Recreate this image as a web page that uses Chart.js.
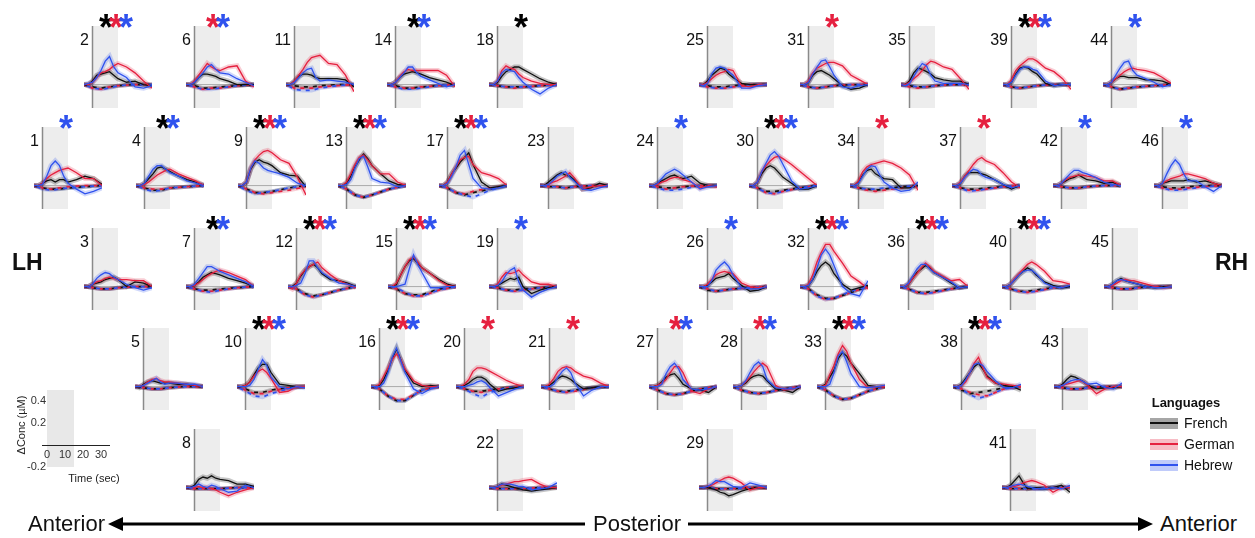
<!DOCTYPE html>
<html>
<head>
<meta charset="utf-8">
<title>HbO / HbR responses per channel</title>
<script src="https://cdn.jsdelivr.net/npm/chart.js@4.4.1/dist/chart.umd.min.js"></script>
<style>
  html, body { margin: 0; padding: 0; background: #fff; }
  #fig { position: relative; width: 1255px; height: 538px; overflow: hidden;
         font-family: "Liberation Sans", Arial, sans-serif; color: #111; }
  #fig canvas { position: absolute; }
  .lbl { position: absolute; font-size: 16px; line-height: 1; transform: translate(-100%, -50%); white-space: nowrap; }
  .star { position: absolute; font-size: 36px; font-weight: bold; line-height: 1; transform: translateX(-50%); }
  .big { position: absolute; font-size: 22px; line-height: 1; transform: translateY(-50%); white-space: nowrap; }
  .hemi { position: absolute; font-size: 23px; font-weight: bold; line-height: 1; transform: translateY(-50%); }
  .small { position: absolute; font-size: 11px; line-height: 1; color: #222; white-space: nowrap; }
  .legtitle { position: absolute; font-size: 13px; font-weight: bold; line-height: 1; transform: translate(-50%, -50%); }
  .legtxt { position: absolute; font-size: 14px; line-height: 1; transform: translateY(-50%); }
  .sw { position: absolute; width: 28px; height: 11px; }
  .sw div { position: absolute; left: 0; right: 0; top: 4.5px; height: 2px; }
</style>
</head>
<body>
<div id="fig"></div>
<script>
// time axes (s)
const timeHbO = [-5, -2.5, 0, 2.5, 5, 7.5, 10, 12.5, 15, 20, 25, 30, 35];
const timeHbR = [-5, 0, 5, 10, 15, 25, 35];

// channel order used by every array below
const channels = [2, 6, 11, 14, 18, 25, 31, 35, 39, 44,
  1, 4, 9, 13, 17, 23, 24, 30, 34, 37, 42, 46,
  3, 7, 12, 15, 19, 26, 32, 36, 40, 45,
  5, 10, 16, 20, 21, 27, 28, 33, 38, 43,
  8, 22, 29, 41];

// significance markers: K = French, R = German, B = Hebrew
const stars = ["KRB", "RB", "", "KB", "K", "", "R", "", "KRB", "B",
  "B", "KB", "KRB", "KRB", "KRB", "", "B", "KRB", "R", "R", "B", "B",
  "", "KB", "KRB", "KRB", "B", "B", "KRB", "KRB", "KRB", "",
  "", "KRB", "KRB", "R", "R", "RB", "RB", "KRB", "KRB", "",
  "", "", "", ""];

// HbO, in 0.01 µM
const frenchHbO = [
  [0,0,3,8,9,10,11,8,5,2,3,0,-1], [0,0,2,6,9,9,8,7,5,3,0,0,0], [0,0,3,7,9,9,8,6,5,5,5,4,-2],
  [0,0,2,6,9,10,11,10,9,6,4,2,-1], [0,0,2,7,11,13,15,15,13,9,5,2,0], [0,0,3,8,11,14,13,9,6,1,0,0,0],
  [0,0,2,8,11,12,10,8,5,-1,-4,-3,0], [0,0,3,10,14,13,11,9,6,4,3,3,0], [0,0,2,9,14,15,14,11,9,1,-1,0,0],
  [0,0,2,5,7,7,6,6,6,4,4,3,0],
  [0,0,2,4,5,3,5,5,3,5,8,6,1], [0,0,2,6,10,15,16,14,12,8,5,3,0], [0,0,3,14,20,22,20,19,17,11,9,8,-1],
  [0,0,2,8,16,22,27,23,17,10,4,1,0], [0,0,3,10,15,20,24,28,18,3,-2,-1,0], [0,0,3,6,9,11,9,8,5,-3,-2,2,0],
  [0,0,2,4,6,8,9,7,6,8,2,0,0], [0,0,3,10,15,17,15,11,7,2,-3,-3,0], [0,0,3,9,13,14,10,8,6,5,-2,-2,0],
  [0,0,2,8,11,11,11,10,9,5,1,-3,0], [0,0,2,4,6,7,9,7,5,4,2,3,0], [0,0,2,3,4,4,4,4,5,3,4,2,0],
  [0,0,2,3,4,6,7,8,6,0,4,3,0], [0,0,1,4,8,10,12,11,10,7,5,3,0], [0,0,3,9,14,17,19,16,11,6,5,3,0],
  [0,0,2,10,17,22,24,20,16,11,6,2,0], [0,0,1,3,5,7,6,8,0,-6,-3,-1,0], [0,0,1,4,7,8,9,11,7,1,-4,-3,0],
  [0,0,1,6,13,18,21,18,11,2,-3,-1,1], [0,0,2,7,12,15,18,16,12,8,3,-1,0], [0,0,2,6,10,13,16,14,10,4,1,-1,0],
  [0,0,2,5,7,5,4,3,2,0,-1,0,0],
  [0,-1,2,4,5,4,3,3,3,2,2,1,0], [0,0,1,4,10,16,19,19,12,2,1,0,0], [0,0,1,6,14,24,32,23,14,3,0,1,0],
  [0,0,1,3,6,8,8,6,2,-4,-2,-1,0], [0,0,1,4,7,9,8,6,3,-2,-1,0,0], [0,0,1,4,8,10,11,7,2,-2,-3,-5,0],
  [0,0,1,3,7,9,10,9,5,-2,-3,-5,0], [0,0,2,8,14,24,29,26,20,11,1,0,0], [0,0,2,7,12,17,20,15,9,3,1,0,-3],
  [0,0,2,6,9,8,6,4,1,-2,-1,-1,0],
  [0,0,2,7,9,8,10,8,7,6,3,3,1], [0,0,1,3,2,1,0,-1,-2,-3,-2,-1,0], [0,0,0,-1,-2,-4,-5,-7,-6,-3,-1,0,0],
  [0,0,2,6,10,4,-1,0,0,-1,0,2,-4]
];
const germanHbO = [
  [0,0,2,6,10,11,13,16,18,15,10,3,-3], [0,0,3,8,13,18,15,13,12,15,16,3,-2], [0,0,3,8,13,19,23,24,25,18,17,8,-6],
  [0,0,2,7,11,13,12,12,12,12,12,8,-2], [0,0,3,12,16,14,13,9,6,3,1,0,0], [0,0,2,5,8,10,11,13,12,-1,-2,0,0],
  [0,0,3,10,14,16,18,19,19,16,8,4,0], [0,0,2,5,8,12,17,20,19,15,13,5,-4], [0,0,4,12,16,19,22,22,20,14,11,5,-4],
  [0,0,2,5,8,11,13,14,13,12,10,6,1],
  [0,0,2,6,9,11,13,14,15,11,6,6,0], [0,0,1,3,6,9,11,13,14,10,7,4,0], [0,0,3,15,22,26,29,30,28,22,19,7,-8],
  [0,0,3,10,18,24,26,22,17,10,10,3,0], [0,0,3,10,16,22,24,25,18,11,9,6,0], [0,0,1,3,4,6,8,11,7,-3,-1,0,0],
  [0,0,1,3,4,6,7,7,5,3,-2,0,-1], [0,0,3,12,17,21,24,25,23,18,12,6,0], [0,0,4,12,16,18,19,20,21,19,15,9,-4],
  [0,0,3,8,13,18,22,24,21,18,11,3,-2], [0,0,2,5,7,8,9,9,8,7,4,4,0], [0,0,2,4,6,7,8,10,10,8,6,2,0],
  [0,0,2,4,5,7,8,7,6,6,5,5,0], [0,0,1,3,6,9,11,13,14,12,9,6,0], [0,-2,3,10,14,17,19,21,16,10,5,2,-1],
  [0,0,3,10,17,23,25,21,16,11,5,1,0], [0,0,2,8,12,11,12,14,10,4,2,2,0], [0,0,2,6,10,12,13,12,11,3,0,-1,0],
  [0,0,2,10,21,29,36,36,30,20,9,4,-2], [0,0,2,7,11,16,20,17,13,9,5,6,0], [0,0,2,7,11,15,19,21,19,13,5,4,2],
  [0,0,1,3,5,6,5,5,4,2,0,-1,0],
  [0,0,1,4,6,7,5,4,4,3,2,1,0], [0,0,1,4,9,13,15,12,7,-5,-4,0,0], [0,0,2,9,16,23,28,23,15,5,1,0,0],
  [0,0,2,6,13,16,16,15,13,9,5,2,0], [0,0,2,7,13,16,17,16,13,9,7,3,0], [0,0,1,3,6,12,17,17,12,-4,-6,-2,0],
  [0,0,1,4,8,13,17,20,17,1,-3,-2,0], [0,0,1,10,18,28,35,30,20,6,-1,0,0], [0,0,1,4,12,20,25,16,8,3,2,1,0],
  [0,0,1,2,3,4,5,4,1,-6,-2,0,0],
  [0,0,0,1,0,0,-1,-2,-4,-7,-4,-2,0], [0,0,1,2,3,4,5,5,6,7,3,0,0], [0,0,1,2,4,6,8,9,8,4,-2,0,0],
  [0,0,1,1,2,4,5,6,5,2,-4,0,0]
];
const hebrewHbO = [
  [0,1,2,6,12,20,24,15,10,6,-2,-3,-1], [0,0,2,6,10,15,17,13,10,9,5,2,-1], [0,0,2,6,10,13,14,6,3,4,3,2,0],
  [0,0,2,6,10,15,15,10,7,4,1,-2,0], [0,0,3,10,13,12,11,6,2,-4,-8,-3,0], [0,-1,1,9,14,15,14,11,8,-3,-3,-1,0],
  [0,0,2,9,15,20,21,15,8,-2,-3,-1,0], [0,-1,1,7,13,18,16,8,3,1,1,1,0], [0,0,2,8,13,15,15,13,12,3,-1,0,0],
  [0,0,2,8,14,19,20,12,8,5,2,-2,0],
  [0,0,1,8,17,21,17,8,2,-3,-7,-5,-2], [0,0,2,8,14,17,17,14,11,8,4,2,0], [0,0,3,15,21,19,15,13,12,10,7,2,0],
  [0,0,1,5,15,23,25,16,6,3,2,-1,0], [0,0,2,8,16,26,30,18,6,-2,-3,-2,0], [0,0,1,4,8,10,12,7,4,-3,-4,-2,0],
  [0,0,2,6,10,12,14,12,9,3,-3,-1,0], [0,0,3,12,19,26,29,25,18,4,-3,-2,0], [0,0,2,8,14,17,16,9,3,-2,-5,-4,3],
  [0,0,2,7,11,14,13,9,7,5,1,-2,0], [0,0,2,6,10,13,13,11,10,7,3,1,0], [0,0,2,10,17,22,18,10,4,4,-1,-5,0],
  [0,0,2,7,10,12,11,8,6,2,-1,-3,-1], [0,0,2,7,12,17,17,15,13,10,7,4,0], [0,0,1,3,11,22,22,16,12,7,3,2,0],
  [0,0,0,1,2,15,27,19,12,-1,-1,0,0], [0,0,1,4,10,14,16,4,-3,-9,-5,-2,0], [0,0,0,5,14,18,21,17,10,-1,-2,-2,0],
  [0,0,1,6,16,27,32,27,18,0,-6,-8,5], [0,0,3,9,15,19,19,15,12,8,4,-1,0], [0,0,2,6,10,13,14,14,11,3,0,-1,1],
  [0,0,2,5,6,5,4,3,2,0,-1,-1,0],
  [0,0,1,3,5,7,4,2,3,3,2,2,0], [0,0,0,1,6,15,23,18,8,0,-2,0,-1], [0,0,0,3,12,25,33,22,12,-2,-6,-2,0],
  [0,0,0,1,2,4,5,3,-1,-8,-5,-2,0], [0,0,0,2,8,13,16,12,3,-8,-3,0,0], [0,0,0,2,11,17,20,15,6,-2,-3,-2,0],
  [0,0,1,5,12,18,21,17,6,-1,-2,-2,0], [0,0,0,2,12,26,30,21,11,0,-1,0,1], [0,0,1,6,12,19,20,18,13,5,-1,-1,2],
  [0,0,1,3,5,6,6,4,2,3,-1,-2,3],
  [0,0,1,3,1,0,2,1,-1,-4,-3,2,0], [0,0,1,3,3,3,2,1,1,-2,-1,0,4], [0,0,1,3,6,5,5,3,1,0,4,2,0],
  [0,0,1,2,3,2,1,0,-1,-1,0,-1,2]
];

// HbR, in 0.01 µM
const frenchHbR = [
  [0,-2,-3,-2,-1,0,0], [0,-1,-3,-3,-2,-1,0], [0,-1,-2,-2,-1,0,0], [0,-1,-3,-3,-2,-1,0], [0,-1,-2,-2,-2,-1,0],
  [0,-1,-2,-2,-1,0,0], [0,-2,-3,-2,-1,0,0], [0,-1,-2,-2,-1,0,0], [0,-2,-3,-2,-1,0,0], [0,-2,-4,-3,-2,-1,0],
  [0,-2,-3,-3,-2,-1,0], [0,-2,-4,-4,-2,-1,0], [0,-3,-6,-6,-5,-2,0], [0,-3,-8,-10,-8,-3,0], [0,-2,-6,-8,-6,-3,0],
  [0,-1,-1,-2,-1,0,0], [0,-1,-2,-2,-1,0,0], [0,-2,-5,-5,-4,-2,0], [0,-2,-3,-4,-3,-1,0], [0,-2,-3,-3,-2,-1,0],
  [0,-1,-2,-2,-1,0,0], [0,-1,-2,-2,-1,0,0],
  [0,-1,-2,-2,-1,0,0], [0,-2,-3,-3,-2,-1,0], [0,-2,-6,-8,-7,-3,0], [0,-2,-6,-7,-7,-2,0], [0,-1,-3,-3,-2,-1,0],
  [0,-3,-4,-3,-2,-1,0], [0,-2,-7,-10,-10,-5,0], [0,-2,-5,-5,-4,-2,0], [0,-2,-4,-4,-3,-1,0], [0,-1,-2,-2,-1,0,0],
  [0,-1,-2,-2,-1,0,0], [0,-2,-5,-5,-3,-1,0], [0,-2,-8,-12,-12,-3,0], [0,-2,-4,-4,-3,-1,0], [0,-2,-4,-4,-3,-1,0],
  [0,-3,-6,-7,-6,-2,0], [0,-3,-5,-6,-5,-2,0], [0,-3,-8,-11,-10,-4,0], [0,-3,-6,-5,-4,-1,0], [0,-1,-2,-2,-1,0,0],
  [0,-1,-1,-1,-1,0,0], [0,-1,-1,-1,-1,0,0], [0,0,-1,-1,-1,0,0], [0,-1,-1,-1,-1,0,0]
];
const germanHbR = [
  [0,-3,-4,-2,-1,0,0], [0,-2,-4,-3,-3,-1,0], [0,-3,-3,-3,-2,-1,0], [0,-2,-3,-3,-2,-1,0], [0,-1,-2,-3,-2,-1,0],
  [0,-2,-3,-3,-2,0,0], [0,-2,-3,-2,-1,0,0], [0,-2,-3,-2,-1,0,0], [0,-2,-3,-2,-1,0,0], [0,-2,-4,-3,-2,-1,0],
  [0,-2,-3,-2,-1,0,0], [0,-2,-3,-3,-2,-1,0], [0,-3,-6,-7,-6,-4,-1], [0,-3,-8,-10,-8,-3,0], [0,-2,-6,-7,-5,-2,0],
  [0,-1,-1,-2,-1,0,0], [0,-1,-3,-2,-1,0,0], [0,-2,-6,-7,-5,-2,0], [0,-2,-4,-5,-4,-2,0], [0,-2,-4,-4,-3,-1,0],
  [0,-1,-2,-2,-1,0,0], [0,-2,-3,-3,-2,-1,0],
  [0,-1,-2,-2,-1,0,0], [0,-2,-4,-4,-3,-1,0], [0,-2,-7,-9,-7,-3,0], [0,-2,-6,-8,-8,-3,0], [0,-1,-3,-4,-3,-1,0],
  [0,-2,-4,-3,-2,-1,0], [0,-2,-8,-11,-10,-5,0], [0,-2,-5,-6,-5,-2,0], [0,-2,-4,-5,-4,-1,0], [0,-1,-2,-2,-1,0,0],
  [0,-1,-2,-2,-1,0,0], [0,-3,-6,-6,-4,-1,0], [0,-2,-8,-11,-11,-3,0], [0,-2,-4,-5,-3,-1,0], [0,-2,-4,-5,-4,-1,0],
  [0,-3,-6,-7,-6,-2,0], [0,-3,-5,-6,-5,-2,0], [0,-3,-8,-11,-10,-4,0], [0,-2,-5,-7,-8,-2,0], [0,-1,-2,-2,-1,0,0],
  [0,-1,-1,-1,-1,0,0], [0,-1,-1,-1,-1,0,0], [0,0,-1,-1,-1,0,0], [0,-1,-1,-1,-1,0,0]
];
const hebrewHbR = [
  [0,-3,-4,-3,-1,0,0], [0,-2,-4,-4,-3,-1,0], [0,-4,-5,-5,-3,-1,0], [0,-2,-4,-4,-3,-1,0], [0,-1,-2,-2,-2,-1,0],
  [0,-2,-3,-3,-2,0,0], [0,-2,-3,-2,-1,0,0], [0,-1,-2,-2,-1,0,0], [0,-2,-3,-2,-1,0,0], [0,-2,-4,-3,-2,-1,0],
  [0,-3,-4,-3,-2,-1,0], [0,-3,-5,-4,-2,-1,0], [0,-4,-7,-6,-5,-2,0], [0,-3,-8,-10,-8,-3,0], [0,-2,-6,-8,-10,-4,0],
  [0,-1,-1,-2,-1,0,0], [0,-2,-4,-4,-3,0,0], [0,-2,-6,-7,-5,-2,0], [0,-2,-3,-3,-2,-1,0], [0,-2,-5,-4,-3,-1,0],
  [0,-1,-2,-2,-1,0,0], [0,-2,-4,-4,-3,-1,0],
  [0,-1,-2,-2,-1,0,0], [0,-2,-4,-5,-3,-1,0], [0,-2,-7,-9,-7,-3,0], [0,-1,-5,-8,-8,-3,0], [0,-1,-3,-4,-3,-1,0],
  [0,-2,-4,-3,-2,-1,0], [0,-2,-8,-11,-10,-4,0], [0,-2,-5,-6,-5,-2,0], [0,-2,-4,-5,-4,-1,0], [0,-1,-2,-2,-1,0,0],
  [0,-1,-2,-2,-1,0,0], [0,-4,-8,-9,-6,-2,0], [0,-2,-8,-12,-12,-3,0], [0,-2,-6,-9,-5,-1,0], [0,-2,-4,-5,-3,-1,0],
  [0,-3,-6,-7,-6,-2,0], [0,-3,-5,-6,-5,-2,0], [0,-3,-8,-11,-10,-4,0], [0,-2,-7,-10,-8,-2,0], [0,-1,-2,-2,-1,0,0],
  [0,-1,-1,-1,-1,0,0], [0,-1,-1,-1,-1,0,0], [0,0,-1,-1,-1,0,0], [0,-1,-1,-1,-1,0,0]
];

// inset scale bar ticks
const insetTimeTicks = [0, 10, 20, 30];
const insetConcTicks = [-0.2, 0.2, 0.4];
const languages = ["French", "German", "Hebrew"];

// ---- layout (pixels) ----
const rowZero = [85, 185.5, 286.5, 387, 488];
const panelRow = [0,0,0,0,0,0,0,0,0,0, 1,1,1,1,1,1,1,1,1,1,1,1, 2,2,2,2,2,2,2,2,2,2, 3,3,3,3,3,3,3,3,3,3, 4,4,4,4];
const panelX = [92, 194, 294, 395, 497, 707, 808, 909, 1011, 1111,
  42, 144, 246, 346, 447, 548, 657, 757, 858, 960, 1061, 1162,
  92, 194, 296, 396, 497, 707, 808, 908, 1010, 1112,
  143, 245, 379, 464, 549, 657, 741, 825, 961, 1062,
  194, 497, 707, 1010];

const PW = 68, PH = 82;          // plot box: -5..35 s, -0.2..0.5 µM
const X_OFF = 8.5, Y_OFF = 58.6;

const lineCol = { French: "#111111", German: "#e5203f", Hebrew: "#2f52ee" };
const bandCol = { French: "rgba(0,0,0,0.22)", German: "rgba(229,32,63,0.22)", Hebrew: "rgba(47,82,238,0.22)" };
const starCol = { K: "#000000", R: "#e5203f", B: "#2f52ee" };

const fig = document.getElementById("fig");

function pts(ts, vs) {
  return ts.map((t, k) => ({ x: t, y: vs[k] / 100 }));
}

const panelFrame = {
  id: "panelFrame",
  beforeDatasetsDraw(chart) {
    const { ctx, chartArea: a, scales: { x, y } } = chart;
    ctx.save();
    ctx.fillStyle = "#ededed";
    ctx.fillRect(x.getPixelForValue(0), a.top, x.getPixelForValue(15) - x.getPixelForValue(0), a.bottom - a.top);
    ctx.strokeStyle = "#999";
    ctx.lineWidth = 0.8;
    ctx.beginPath();
    ctx.moveTo(x.getPixelForValue(-5), y.getPixelForValue(0));
    ctx.lineTo(x.getPixelForValue(35), y.getPixelForValue(0));
    ctx.stroke();
    ctx.strokeStyle = "#8a8a8a";
    ctx.lineWidth = 1.5;
    ctx.beginPath();
    ctx.moveTo(x.getPixelForValue(0), a.top);
    ctx.lineTo(x.getPixelForValue(0), a.bottom);
    ctx.stroke();
    ctx.restore();
  }
};

function makePanel(i) {
  const vx = panelX[i], zy = rowZero[panelRow[i]];
  const cv = document.createElement("canvas");
  cv.width = PW; cv.height = PH;
  cv.style.left = Math.round(vx - X_OFF) + "px";
  cv.style.top = Math.round(zy - Y_OFF) + "px";
  fig.appendChild(cv);

  const hbo = { French: frenchHbO[i], German: germanHbO[i], Hebrew: hebrewHbO[i] };
  const hbr = { French: frenchHbR[i], German: germanHbR[i], Hebrew: hebrewHbR[i] };
  const sets = [];
  languages.forEach((lang, k) => {
    sets.push({ data: pts(timeHbO, hbo[lang]), borderColor: bandCol[lang], borderWidth: 5, order: 20 + k });
    sets.push({ data: pts(timeHbR, hbr[lang]), borderColor: bandCol[lang], borderWidth: 4, order: 30 + k });
    sets.push({ data: pts(timeHbR, hbr[lang]), borderColor: lineCol[lang], borderWidth: 1.7,
      borderDash: [4, 5], borderDashOffset: k * 3, order: 10 - k });
    sets.push({ data: pts(timeHbO, hbo[lang]), borderColor: lineCol[lang], borderWidth: 1.3, order: 3 - k });
  });

  new Chart(cv, {
    type: "line",
    data: { datasets: sets },
    options: {
      responsive: false, animation: false, events: [],
      layout: { padding: 0 },
      elements: { point: { radius: 0 }, line: { tension: 0, fill: false } },
      plugins: { legend: { display: false }, tooltip: { enabled: false } },
      scales: {
        x: { type: "linear", min: -5, max: 35, display: false },
        y: { type: "linear", min: -0.2, max: 0.5, display: false }
      }
    },
    plugins: [panelFrame]
  });

  const top = zy - Y_OFF;
  const lab = document.createElement("div");
  lab.className = "lbl";
  lab.textContent = channels[i];
  lab.style.left = (vx - 3) + "px";
  lab.style.top = (top + 14) + "px";
  fig.appendChild(lab);

  const s = stars[i];
  for (let k = 0; k < s.length; k++) {
    const st = document.createElement("div");
    st.className = "star";
    st.textContent = "*";
    st.style.color = starCol[s[k]];
    st.style.left = (vx + 24 + (k - (s.length - 1) / 2) * 10) + "px";
    st.style.top = (top - 6 - 10.3) + "px";
    fig.appendChild(st);
  }
}

channels.forEach((c, i) => makePanel(i));

// ---- inset scale axes ----
const insetCv = document.createElement("canvas");
insetCv.width = 125; insetCv.height = 100;
insetCv.style.left = "0px"; insetCv.style.top = "380px";
fig.appendChild(insetCv);

// grey stimulus box and zero axis, painted before the tick labels
const insetFrame = {
  id: "insetFrame",
  beforeDraw(chart) {
    const { ctx, chartArea: a, scales: { x, y } } = chart;
    ctx.save();
    ctx.fillStyle = "#e8e8e8";
    ctx.fillRect(x.getPixelForValue(0), a.top, x.getPixelForValue(15) - x.getPixelForValue(0), a.bottom - a.top);
    ctx.strokeStyle = "#222";
    ctx.lineWidth = 1;
    ctx.beginPath();
    ctx.moveTo(x.getPixelForValue(0) - 5, Math.round(y.getPixelForValue(0)) + 0.5);
    ctx.lineTo(x.getPixelForValue(35), Math.round(y.getPixelForValue(0)) + 0.5);
    ctx.stroke();
    ctx.restore();
  }
};

new Chart(insetCv, {
  type: "line",
  data: { datasets: [{ data: [] }] },
  options: {
    responsive: false, animation: false, events: [],
    layout: { padding: { left: 10, top: 10, right: 15, bottom: 13 } },
    plugins: { legend: { display: false }, tooltip: { enabled: false } },
    scales: {
      x: {
        type: "linear", min: 0, max: 35, position: { y: 0 },
        afterBuildTicks: s => { s.ticks = insetTimeTicks.map(v => ({ value: v })); },
        grid: { display: false, drawTicks: false },
        border: { display: false },
        ticks: { padding: 3, color: "#333", font: { size: 11, family: "Liberation Sans" }, maxRotation: 0 }
      },
      y: {
        type: "linear", min: -0.2, max: 0.5, position: "left",
        afterBuildTicks: s => { s.ticks = insetConcTicks.map(v => ({ value: v })); },
        afterFit: s => { s.width = 37; },
        grid: { display: false, drawTicks: false },
        border: { display: false },
        ticks: { padding: 1, color: "#333", font: { size: 11, family: "Liberation Sans" },
          callback: v => String(Math.round(v * 10) / 10) }
      }
    }
  },
  plugins: [insetFrame]
});

function addText(cls, txt, left, top, extra) {
  const d = document.createElement("div");
  d.className = cls;
  d.textContent = txt;
  d.style.left = left + "px";
  d.style.top = top + "px";
  if (extra) Object.assign(d.style, extra);
  fig.appendChild(d);
  return d;
}

addText("small", "ΔConc (µM)", 21, 425, { transform: "translate(-50%,-50%) rotate(-90deg)" });
addText("small", "Time (sec)", 94, 478, { transform: "translate(-50%,-50%)" });

// hemispheres
addText("hemi", "LH", 12, 262);
addText("hemi", "RH", 1215, 262);

// legend
addText("legtitle", "Languages", 1186, 402);
languages.forEach((lang, k) => {
  const y = 423 + k * 21;
  const sw = document.createElement("div");
  sw.className = "sw";
  sw.style.left = "1150px";
  sw.style.top = (y - 5.5) + "px";
  sw.style.background = bandCol[lang].replace("0.22", lang === "French" ? "0.35" : "0.3");
  const ln = document.createElement("div");
  ln.style.background = lineCol[lang];
  sw.appendChild(ln);
  fig.appendChild(sw);
  addText("legtxt", lang, 1184, y);
});

// anterior / posterior axis
addText("big", "Anterior", 28, 524);
addText("big", "Posterior", 593, 524);
addText("big", "Anterior", 1160, 524);

const svgNS = "http://www.w3.org/2000/svg";
const svg = document.createElementNS(svgNS, "svg");
svg.setAttribute("width", "1255");
svg.setAttribute("height", "538");
svg.style.position = "absolute";
svg.style.left = "0px";
svg.style.top = "0px";
[[118, 585], [688, 1142]].forEach(([a, b]) => {
  const l = document.createElementNS(svgNS, "line");
  l.setAttribute("x1", a); l.setAttribute("x2", b);
  l.setAttribute("y1", 524); l.setAttribute("y2", 524);
  l.setAttribute("stroke", "#000"); l.setAttribute("stroke-width", "3");
  svg.appendChild(l);
});
[["108,524 123,517 123,531"], ["1153,524 1138,517 1138,531"]].forEach(([p]) => {
  const g = document.createElementNS(svgNS, "polygon");
  g.setAttribute("points", p);
  g.setAttribute("fill", "#000");
  svg.appendChild(g);
});
fig.appendChild(svg);
</script>
</body>
</html>
